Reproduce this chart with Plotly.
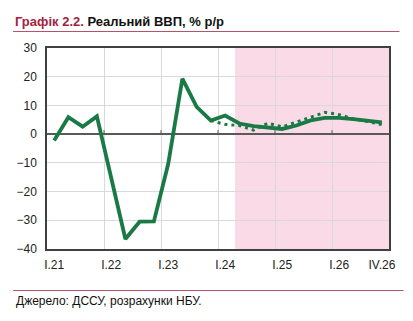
import plotly.graph_objects as go

quarters = ["I.21", "II.21", "III.21", "IV.21", "I.22", "II.22", "III.22", "IV.22",
            "I.23", "II.23", "III.23", "IV.23", "I.24", "II.24", "III.24", "IV.24",
            "I.25", "II.25", "III.25", "IV.25", "I.26", "II.26", "III.26", "IV.26"]
gdp_main = [-2.2, 5.9, 2.6, 6.2, -15.1, -36.5, -30.5, -30.4,
            -10.5, 19.3, 9.5, 4.7, 6.5, 3.7, 2.8, 2.3,
            1.8, 3.0, 4.8, 5.7, 5.7, 5.2, 4.5, 4.1]
dotted_quarters = quarters[11:]
gdp_dotted = [4.7, 3.4, 3.0, 1.4, 3.8, 2.5, 4.2, 6.0, 7.6, 6.8, 5.3, 4.4, 3.3]
tick_labels = ["I.21", "I.22", "I.23", "I.24", "I.25", "I.26", "IV.26"]
forecast_start = 12.7

idx = {q: i for i, q in enumerate(quarters)}
x_main = [idx[q] for q in quarters]
x_dot = [idx[q] for q in dotted_quarters]
tickvals = [idx[t] for t in tick_labels]
boundaries = [i - 0.5 for i in range(4, len(quarters), 4)]

green = "#1A7A45"
grid = "#D9D9D9"
font = "Liberation Sans, Arial, sans-serif"

W, H = 413, 321
ML, MR, MT, MB = 47, 23.5, 48, 72
plot_w = W - ML - MR
plot_h = H - MT - MB


def px_x(px):
    return (px - ML) / plot_w


def px_y(py):
    return (H - py - MB) / plot_h


fig = go.Figure()
fig.add_trace(go.Scatter(x=x_main, y=gdp_main, mode="lines",
                         line=dict(color=green, width=3.8), showlegend=False))
fig.add_trace(go.Scatter(x=x_dot, y=gdp_dotted, mode="lines",
                         line=dict(color=green, width=3, dash="3px,4px"), showlegend=False))

shapes = [dict(type="rect", xref="x", yref="y domain", x0=forecast_start, x1=len(quarters) - 0.5,
               y0=0, y1=1, fillcolor="#FADAE7", line=dict(width=0), layer="below")]
for b in boundaries:
    shapes.append(dict(type="line", xref="x", yref="y", x0=b, x1=b, y0=0, y1=1.4,
                       line=dict(color="#595959", width=1), layer="above"))
# title underline and footer line
shapes.append(dict(type="line", xref="paper", yref="paper", x0=px_x(13), x1=px_x(400),
                   y0=px_y(31.5), y1=px_y(31.5), line=dict(color="#B5536F", width=1)))
shapes.append(dict(type="line", xref="paper", yref="paper", x0=px_x(13), x1=px_x(404),
                   y0=px_y(290.5), y1=px_y(290.5), line=dict(color="#B5536F", width=1)))

annotations = [
    dict(xref="paper", yref="paper", x=px_x(13), y=px_y(22),
         xanchor="left", yanchor="middle", showarrow=False,
         text="<b><span style='color:#A3233F'>Графік 2.2.</span> Реальний ВВП, % р/р</b>",
         font=dict(family=font, size=13, color="#111111")),
    dict(xref="paper", yref="paper", x=px_x(14), y=px_y(301),
         xanchor="left", yanchor="middle", showarrow=False,
         text="Джерело: ДССУ, розрахунки НБУ.",
         font=dict(family=font, size=12, color="#111111")),
]

fig.update_layout(
    width=W, height=H,
    margin=dict(l=ML, r=MR, t=MT, b=MB),
    paper_bgcolor="white", plot_bgcolor="white",
    font=dict(family=font, size=12, color="#222222"),
    shapes=shapes, annotations=annotations,
    xaxis=dict(range=[-0.5, len(quarters) - 0.5], tickmode="array", tickvals=tickvals,
               ticktext=tick_labels, showgrid=False, zeroline=False,
               showline=True, mirror=True, linecolor="#404040", linewidth=1.5,
               ticks="", ticklabelstandoff=4,
               minor=dict(tickmode="array", tickvals=boundaries, showgrid=True,
                          gridcolor=grid, gridwidth=1, ticks="")),
    yaxis=dict(range=[-40, 30], tickmode="array", tickvals=list(range(-40, 31, 10)),
               showgrid=True, gridcolor=grid, gridwidth=1,
               zeroline=True, zerolinecolor="#595959", zerolinewidth=1.5,
               showline=True, mirror=True, linecolor="#404040", linewidth=1.5,
               ticks="", ticklabelstandoff=6),
)

fig.write_html("out.html")
